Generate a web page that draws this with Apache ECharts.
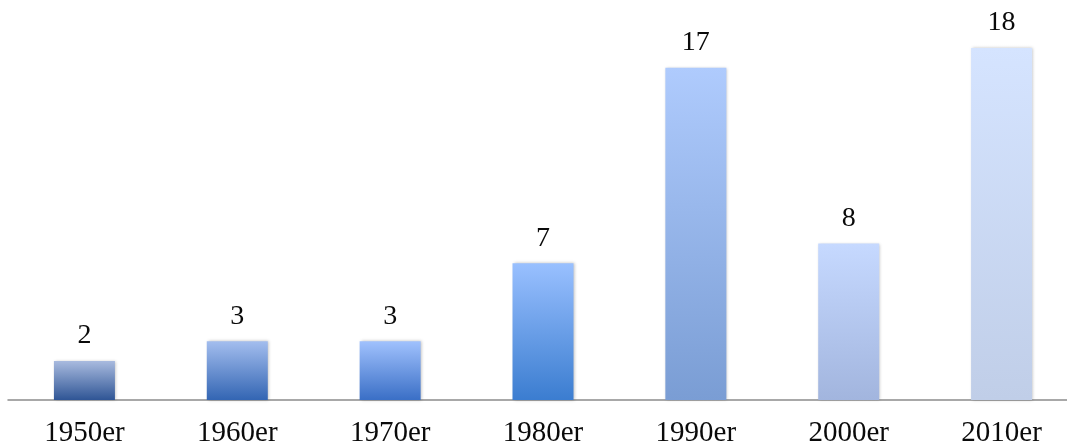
<!DOCTYPE html>
<html>
<head>
<meta charset="utf-8">
<script src="https://cdn.jsdelivr.net/npm/echarts@6/dist/echarts.min.js"></script>
<style>
  html, body { margin: 0; padding: 0; background: #ffffff; overflow: hidden; }
  #chart { width: 1080px; height: 448px; }
</style>
</head>
<body>
<div id="chart"></div>
<script>
// Decades and counts per decade
var decades = ['1950er', '1960er', '1970er', '1980er', '1990er', '2000er', '2010er'];
var counts = [2, 3, 3, 7, 17, 8, 18];
// Gradient stops for each bar: [top colour, bottom colour]
var barTopColors = ['#a9bbdf', '#a3bdee', '#a0c1fd', '#99c0ff', '#afcbfd', '#c6d9ff', '#d5e4ff'];
var barBottomColors = ['#2f5595', '#3365b3', '#3a6fc6', '#3b7dd0', '#7a9dd4', '#a2b5de', '#c0cee8'];

var barData = counts.map(function (v, i) {
  return {
    value: v,
    itemStyle: {
      color: new echarts.graphic.LinearGradient(0, 0, 0, 1, [
        { offset: 0, color: barTopColors[i] },
        { offset: 1, color: barBottomColors[i] }
      ])
    }
  };
});

var chart = echarts.init(document.getElementById('chart'), null, { renderer: 'canvas' });
chart.setOption({
  animation: false,
  backgroundColor: '#ffffff',
  grid: { left: 8, top: 9, width: 1070, height: 394, containLabel: false },
  xAxis: {
    type: 'category',
    data: decades,
    axisLine: { show: true, lineStyle: { color: '#8c8c8c', width: 1.5 } },
    axisTick: { show: false },
    axisLabel: {
      color: '#0a0a0a',
      fontFamily: 'Liberation Serif',
      fontSize: 29,
      margin: 19,
      interval: 0
    }
  },
  yAxis: {
    type: 'value',
    min: 0,
    max: 20,
    show: false,
    splitLine: { show: false }
  },
  series: [{
    type: 'bar',
    data: barData,
    barWidth: 61,
    itemStyle: {
      shadowBlur: 3,
      shadowColor: 'rgba(0,0,0,0.25)',
      shadowOffsetX: 1,
      shadowOffsetY: 0
    },
    label: {
      show: true,
      position: 'top',
      distance: 11,
      color: '#0a0a0a',
      fontFamily: 'Liberation Serif',
      fontSize: 28
    }
  }]
});
</script>
</body>
</html>
